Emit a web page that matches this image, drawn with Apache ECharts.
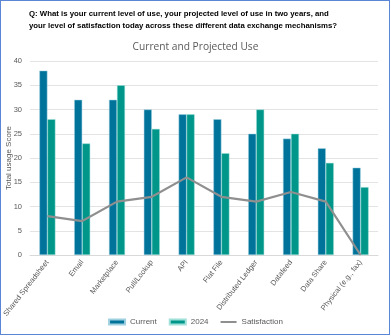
<!DOCTYPE html>
<html><head><meta charset="utf-8">
<script src="https://cdn.jsdelivr.net/npm/echarts@6/dist/echarts.min.js"></script>
<style>
html,body{margin:0;padding:0;background:#fff;}
#frame{position:absolute;left:0;top:0;width:388px;height:333px;border:1.5px solid #5B86D6;}
#c{position:absolute;left:0;top:0;width:391px;height:336px;}
</style></head>
<body>
<div id="frame"></div>
<div id="c"></div>
<script>
const categories = ['Shared Spreadsheet','Email','Marketplace','Pull/Lookup','API','Flat File','Distributed Ledger','Datafeed','Data Share','Physical (e.g., fax)'];
const currentUse = [38,32,32,30,29,28,25,24,22,18];
const projected2024 = [28,23,35,26,29,21,30,25,19,14];
const satisfaction = [8,7,11,12,16,12,11,13,11,0];
const yTicks = [0,5,10,15,20,25,30,35,40];

const chart = echarts.init(document.getElementById('c'), null, {renderer:'canvas'});
chart.setOption({
  animation:false,
  backgroundColor:'transparent',
  title:[
    {text:'Q: What is your current level of use, your projected level of use in two years, and\nyour level of satisfaction today across these different data exchange mechanisms?',
     left:24, top:3, textStyle:{fontFamily:'Liberation Sans', fontSize:7.8, fontWeight:'bold', color:'#000', lineHeight:12}},
    {text:'Current and Projected Use', left:'center', top:37,
     textStyle:{fontFamily:'Open Sans', fontSize:10.2, fontWeight:'normal', color:'#595959'}}
  ],
  legend:{
    bottom:5, left:'center', itemWidth:16, itemHeight:5, itemGap:12,
    textStyle:{fontFamily:'Liberation Sans', fontSize:8, color:'#595959'},
    data:[{name:'Current', icon:'rect'},{name:'2024', icon:'rect'},{name:'Satisfaction', icon:'path://M0,0H20V2.5H0Z'}]
  },
  grid:{left:30, right:13, top:61, bottom:81, outerBoundsMode:'none', containLabel:false},
  xAxis:{
    type:'category', data:categories,
    axisLine:{lineStyle:{color:'#d9d9d9'}},
    axisTick:{show:false},
    axisLabel:{rotate:52, interval:0, fontFamily:'Liberation Sans', fontSize:7.5, color:'#595959', margin:6}
  },
  yAxis:{
    type:'value', min:yTicks[0], max:yTicks[yTicks.length-1], interval:5,
    name:'Total usage Score', nameLocation:'middle', nameGap:17, nameMoveOverlap:false,
    nameTextStyle:{fontFamily:'Liberation Sans', fontSize:8, color:'#595959'},
    axisLine:{show:false}, axisTick:{show:false},
    axisLabel:{fontFamily:'Liberation Sans', fontSize:7.5, color:'#595959', margin:8},
    splitLine:{lineStyle:{color:'#e3e3e3'}}
  },
  series:[
    {name:'Current', type:'bar', data:currentUse, barWidth:8, barGap:'0%',
     itemStyle:{color:'#00739B', borderColor:'#9fd0e0', borderWidth:0.5}},
    {name:'2024', type:'bar', data:projected2024, barWidth:8,
     itemStyle:{color:'#00968A', borderColor:'#9fe0d8', borderWidth:0.5}},
    {name:'Satisfaction', type:'line', data:satisfaction, symbol:'none',
     lineStyle:{color:'#8f8f8f', width:2.2}, itemStyle:{color:'#8f8f8f'}}
  ]
});
</script>
</body></html>
